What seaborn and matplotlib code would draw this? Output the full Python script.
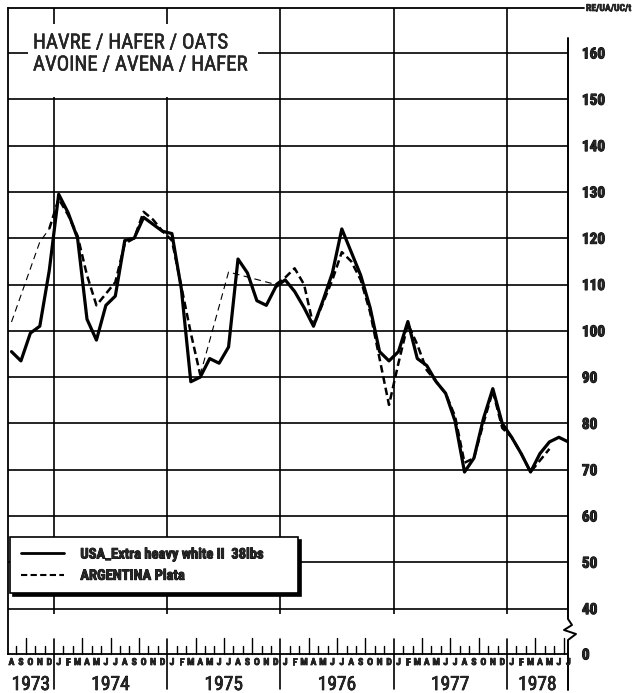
import numpy as np
import pandas as pd
import matplotlib
matplotlib.use("Agg")
import matplotlib.pyplot as plt
import matplotlib.patheffects as pe
from matplotlib.lines import Line2D
from matplotlib.patches import Rectangle
import seaborn as sns

# ---------------- data ----------------
month_letters = ["J", "F", "M", "A", "M", "J", "J", "A", "S", "O", "N", "D"]
first_year = 1973
first_month = 8          # series starts August 1973
year_labels = ["1973", "1974", "1975", "1976", "1977", "1978"]

usa_values = [95.5, 93.5, 99.5, 101, 113, 129.5, 125.5, 120, 102.5, 98,
              105.5, 107.5, 119.5, 120, 124.5, 123, 121.5, 121, 109, 89,
              90, 94, 93, 96.5, 115.5, 112.5, 106.5, 105.5, 109.5, 111,
              108.5, 105, 101, 106.5, 112.5, 122, 117, 112, 105, 95.5,
              93.5, 95.5, 102, 94, 92.5, 89, 86.5, 80.5, 69.5, 72.5,
              81, 87.5, 80, 77, 73.5, 69.5, 73.5, 76, 77, 76]

nan = np.nan
argentina_values = [101.9, nan, nan, 119.2, 122, 128.5, 125, 120.5, 112, 105.5,
                    108, 110.5, 118.8, 120, 125.7, 124, 121.5, 119.5, 109.5, 99.5,
                    90.5, nan, nan, 112.7, nan, nan, nan, nan, 110, 111.5,
                    113.5, 110, 101, 106, 111, 117, 115, 111, 104, 94,
                    84, 93, 101.5, 97, 91.5, 89, 86.5, 81.5, 71.5, 72.5,
                    80, 87, 79, 77, 73.5, 69.5, 72, 74.5, nan, nan]

y_ticks = [40, 50, 60, 70, 80, 90, 100, 110, 120, 130, 140, 150, 160]
zero_label = "0"
unit_label = "RE/UA/UC/t"
title_lines = ["HAVRE / HAFER / OATS", "AVOINE / AVENA / HAFER"]
series_labels = ["USA_Extra heavy white II  38lbs", "ARGENTINA Plata"]

# spans (month index) of the Argentina series drawn with a thin line
thin_spans = [(0, 4), (20, 28)]

# ---------------- figure ----------------
sns.set_style("white")
plt.rcParams["font.family"] = ["Liberation Sans Narrow", "DejaVu Sans Condensed",
                               "Roboto Condensed", "Liberation Sans", "DejaVu Sans"]

def heavy(w):
    return [pe.withStroke(linewidth=w, foreground="black")]

W, H = 634, 693
fig = plt.figure(figsize=(W / 100, H / 100), dpi=100)

# pixel layout helpers (decoration only)
X0, XS = 11.5, 9.4375          # px of month 0, px per month
Y40, YS = 608.6, 4.63          # px of value 40, px per unit
def m_of(px):
    return (px - X0) / XS
def v_of(py):
    return 40 + (Y40 - py) / YS

L, R, T, B = 8, 568, 8, 654
ax = fig.add_axes([L / W, 1 - B / H, (R - L) / W, (B - T) / H])
xmin, xmax = m_of(L), m_of(R)
ymin, ymax = v_of(B), v_of(T)
ax.set_xlim(xmin, xmax)
ax.set_ylim(ymin, ymax)

n = len(usa_values)
t = np.arange(n)
df = pd.DataFrame({"t": t, "usa": usa_values, "arg": argentina_values})

# grid
for v in y_ticks:
    ax.axhline(v, color="black", lw=1.2, zorder=1)
cal = (first_month - 1 + t)            # months since Jan of first year
year_bounds = [i + 0.5 for i in t[:-1] if (cal[i] + 1) % 12 == 0]
ax.vlines(year_bounds, v_of(614), ymax, color="black", lw=1.2, zorder=1)

# month ticks on the bottom axis
for i in t[:-1]:
    nxt = (cal[i] + 1) % 12
    if nxt == 0:
        ax.plot([i + 0.5, i + 0.5], [v_of(639), v_of(689)], color="black",
                lw=1.2, clip_on=False, zorder=2)
    elif nxt in (3, 6, 9):
        ax.plot([i + 0.5, i + 0.5], [ymin, v_of(638)], color="black",
                lw=1.0, clip_on=False, zorder=2)
    else:
        ax.plot([i + 0.5, i + 0.5], [ymin, v_of(646)], color="black",
                lw=1.0, clip_on=False, zorder=2)

# month letters and years
xt = ax.get_xaxis_transform()
def yfrac(py):
    return (B - py) / (B - T)
for i in t:
    ax.text(i, yfrac(662), month_letters[cal[i] % 12], transform=xt,
            ha="center", va="center", fontsize=7, fontweight="bold",
            path_effects=heavy(0.5))
years_of = first_year + cal // 12
for k, ylab in enumerate(year_labels):
    idx = t[years_of == first_year + k]
    cx = (max(idx[0] - 0.5, xmin) + min(idx[-1] + 0.5, xmax)) / 2
    ax.text(cx, yfrac(685), ylab, transform=xt, ha="center", va="center",
            fontsize=14, path_effects=heavy(0.5))

# data lines (seaborn)
sns.lineplot(data=df, x="t", y="usa", color="black", lw=2.3,
             estimator=None, ax=ax, zorder=3)

def spans_frame(spans):
    parts = []
    for k, (a, b) in enumerate(spans):
        sub = df[(df.t >= a) & (df.t <= b)].dropna(subset=["arg"]).copy()
        sub["seg"] = k
        parts.append(sub)
    return pd.concat(parts)

thick_spans = []
prev = 0
for a, b in thin_spans:
    if a > prev:
        thick_spans.append((prev, a))
    prev = b
last_valid = int(df.dropna(subset=["arg"]).t.max())
thick_spans.append((prev, last_valid))
thick_spans = [s for s in thick_spans if s[1] > s[0]]

sns.lineplot(data=spans_frame(thick_spans), x="t", y="arg", units="seg",
             estimator=None, color="black", lw=1.8,
             linestyle=(0, (3.0, 1.6)), ax=ax, zorder=3)
sns.lineplot(data=spans_frame(thin_spans), x="t", y="arg", units="seg",
             estimator=None, color="black", lw=0.8,
             linestyle=(0, (6, 4)), ax=ax, zorder=3)

# spines
for s in ["top", "right"]:
    ax.spines[s].set_visible(False)
for s in ["left", "bottom"]:
    ax.spines[s].set_linewidth(1.3)
    ax.spines[s].set_color("black")
# top frame line extended to unit label
ax.plot([xmin, m_of(584)], [ymax, ymax], color="black", lw=1.3,
        clip_on=False, zorder=2)
ax.text(m_of(586), ymax, unit_label, ha="left", va="center", fontsize=7,
        fontweight="bold", path_effects=heavy(0.4))
# right axis with break
bx = [xmax, xmax, m_of(572), m_of(564), m_of(576), xmax, xmax]
by = [v_of(38), v_of(619), v_of(625), v_of(630), v_of(634), v_of(640), v_of(690)]
ax.plot(bx, by, color="black", lw=1.4, clip_on=False, zorder=2)

# y tick labels on the right
ax.yaxis.tick_right()
ax.set_yticks(y_ticks + [ymin])
ax.set_yticklabels([str(v) for v in y_ticks] + [zero_label], fontsize=11,
                   fontweight="bold")
for lbl in ax.get_yticklabels():
    lbl.set_path_effects(heavy(0.7))
ax.tick_params(axis="y", length=0, pad=10)
ax.set_xticks([])
ax.set_xlabel("")
ax.set_ylabel("")

# title box masking grid
ax.add_patch(Rectangle((m_of(28), v_of(97)), m_of(258) - m_of(28),
                       v_of(24) - v_of(97), facecolor="white",
                       edgecolor="none", zorder=4))
ax.text(m_of(33), v_of(43), title_lines[0], ha="left", va="center",
        fontsize=15, zorder=5, path_effects=heavy(0.3))
ax.text(m_of(33), v_of(65), title_lines[1], ha="left", va="center",
        fontsize=15, zorder=5, path_effects=heavy(0.3))

# legend
handles = [Line2D([], [], color="black", lw=2.0),
           Line2D([], [], color="black", lw=1.5, linestyle=(0, (3.0, 1.6)))]
leg = ax.legend(handles, series_labels, loc="upper left",
                bbox_to_anchor=(10 / W, 1 - 537 / H - 0.01, 288 / W, 0.01),
                bbox_transform=fig.transFigure, mode="expand",
                borderaxespad=0, frameon=True, fancybox=False,
                shadow={"color": "black", "alpha": 1},
                framealpha=1, facecolor="white", edgecolor="black",
                handlelength=3.0, handletextpad=1.1, borderpad=0.72,
                labelspacing=0.5, prop={"weight": "bold", "size": 10.5})
leg.get_frame().set_linewidth(1.2)
for txt in leg.get_texts():
    txt.set_path_effects(heavy(0.6))
leg.set_zorder(6)

fig.savefig("out.png", dpi=100)
